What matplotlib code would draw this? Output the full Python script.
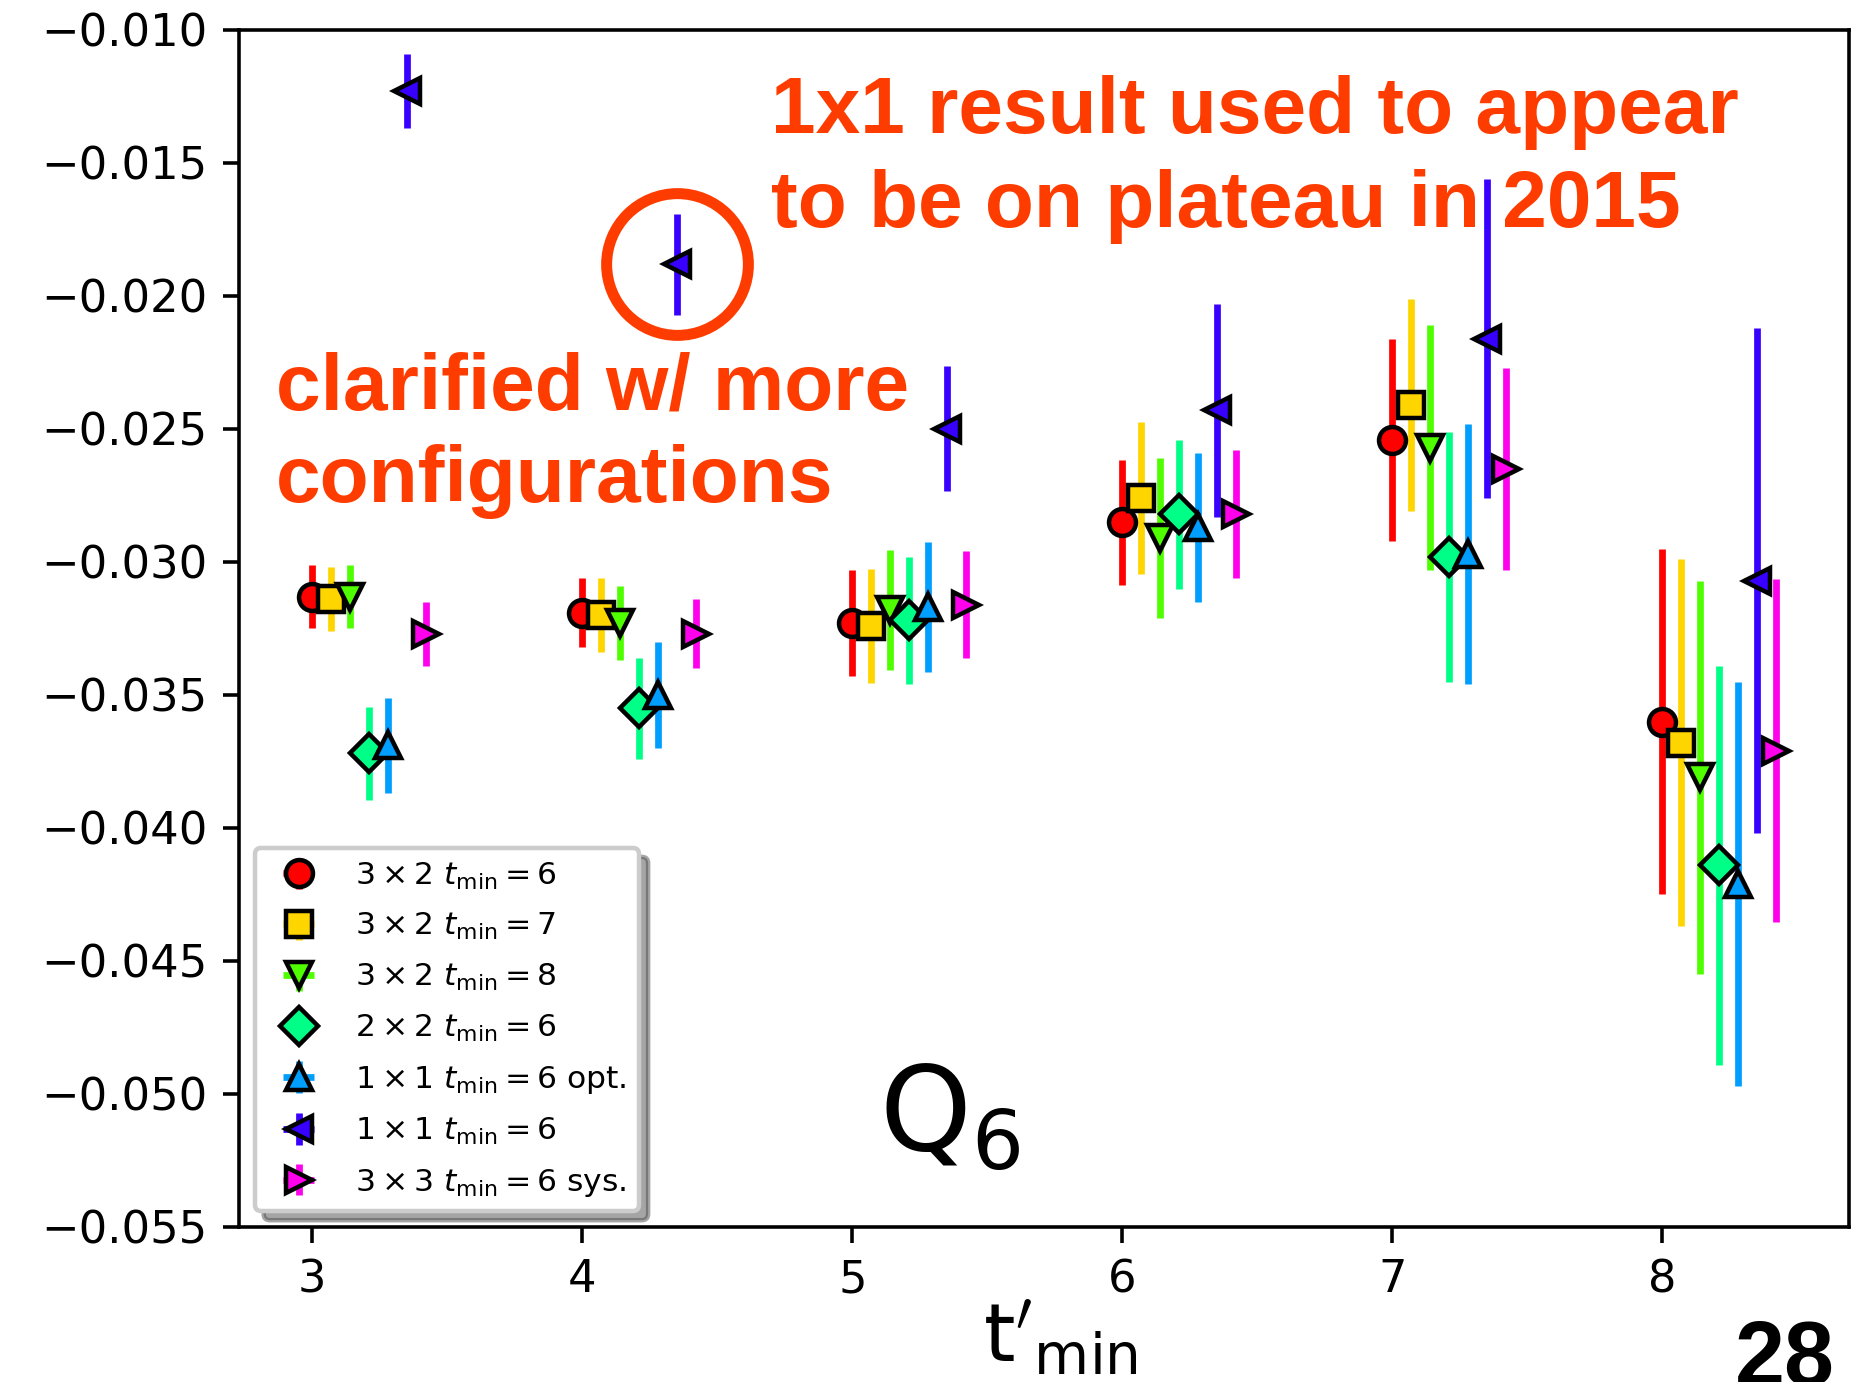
import numpy as np
import matplotlib
matplotlib.use("Agg")
import matplotlib.pyplot as plt

# t'_min values and the per-series horizontal offsets
tmin = np.array([3, 4, 5, 6, 7, 8])

labels = [
    r"$3\times2$ $t_{\rm min}=6$",
    r"$3\times2$ $t_{\rm min}=7$",
    r"$3\times2$ $t_{\rm min}=8$",
    r"$2\times2$ $t_{\rm min}=6$",
    r"$1\times1$ $t_{\rm min}=6$ opt.",
    r"$1\times1$ $t_{\rm min}=6$",
    r"$3\times3$ $t_{\rm min}=6$ sys.",
]

vals_3x2_t6 = [-0.0313, -0.0319, -0.0323, -0.0285, -0.0254, -0.0360]
errs_3x2_t6 = [0.0012, 0.0013, 0.0020, 0.00235, 0.0038, 0.0065]

vals_3x2_t7 = [-0.0314, -0.0320, -0.0324, -0.0276, -0.0241, -0.0368]
errs_3x2_t7 = [0.0012, 0.0014, 0.00215, 0.00285, 0.0040, 0.0069]

vals_3x2_t8 = [-0.0313, -0.0323, -0.0318, -0.0291, -0.0257, -0.0381]
errs_3x2_t8 = [0.0012, 0.0014, 0.00225, 0.0030, 0.0046, 0.0074]

vals_2x2_t6 = [-0.0372, -0.0355, -0.0322, -0.0282, -0.0298, -0.0414]
errs_2x2_t6 = [0.00175, 0.0019, 0.0024, 0.0028, 0.0047, 0.0075]

vals_1x1_opt = [-0.0369, -0.0350, -0.0317, -0.0287, -0.0297, -0.0421]
errs_1x1_opt = [0.0018, 0.0020, 0.00245, 0.0028, 0.0049, 0.0076]

vals_1x1_t6 = [-0.0123, -0.0188, -0.0250, -0.0243, -0.0216, -0.0307]
errs_1x1_t6 = [0.0014, 0.0019, 0.00235, 0.0040, 0.0060, 0.0095]

vals_3x3_sys = [-0.0327, -0.0327, -0.0316, -0.0282, -0.0265, -0.0371]
errs_3x3_sys = [0.0012, 0.0013, 0.0020, 0.0024, 0.0038, 0.00645]

values = [vals_3x2_t6, vals_3x2_t7, vals_3x2_t8, vals_2x2_t6,
          vals_1x1_opt, vals_1x1_t6, vals_3x3_sys]
errors = [errs_3x2_t6, errs_3x2_t7, errs_3x2_t8, errs_2x2_t6,
          errs_1x1_opt, errs_1x1_t6, errs_3x3_sys]
markers = ["o", "s", "v", "D", "^", "<", ">"]
shift = 0.07

DPI = 323
fig = plt.figure(figsize=(1874 / DPI, 1382 / DPI), dpi=DPI)
ax = fig.add_axes([0.1275, 0.1122, 0.8592, 0.8661])

for i, (v, e, m, lab) in enumerate(zip(values, errors, markers, labels)):
    col = plt.cm.hsv(i / 7)
    ax.errorbar(tmin + i * shift, v, yerr=e, xerr=0, fmt=m, color=col,
                mfc=col, mec="black", mew=1.0, ms=6, elinewidth=1.5,
                capsize=0, label=lab)

ax.set_ylim(-0.055, -0.010)
ax.set_xlabel(r"$\mathrm{t}'_{\mathrm{min}}$", fontsize=18, labelpad=-0.5)
ax.xaxis.label.set_x(0.51)

ax.legend(loc="lower left", shadow=True, fontsize=7, labelspacing=0.63)

ax.text(5.1, -0.0521, r"$\mathrm{Q}_6$", fontsize=26, va="baseline")

note_color = "#ff3c00"
# highlight the old 1x1 point
ax.plot(tmin[1] + 5 * shift, vals_1x1_t6[1], "o", ms=31.6, mfc="none",
        mec=note_color, mew=2.45)
ax.text(4.70, -0.0174, "1x1 result used to appear\nto be on plateau in 2015",
        fontsize=17.9, fontweight="bold", family="Liberation Sans",
        color=note_color, va="baseline", linespacing=1.33)
ax.text(2.866, -0.02774, "clarified w/ more\nconfigurations",
        fontsize=17.9, fontweight="bold", family="Liberation Sans",
        color=note_color, va="baseline", linespacing=1.3)

fig.text(0.979, -0.002, "28", fontsize=20, fontweight="bold",
         family="Liberation Sans", ha="right", va="baseline")

fig.savefig("out.png", dpi=DPI)
